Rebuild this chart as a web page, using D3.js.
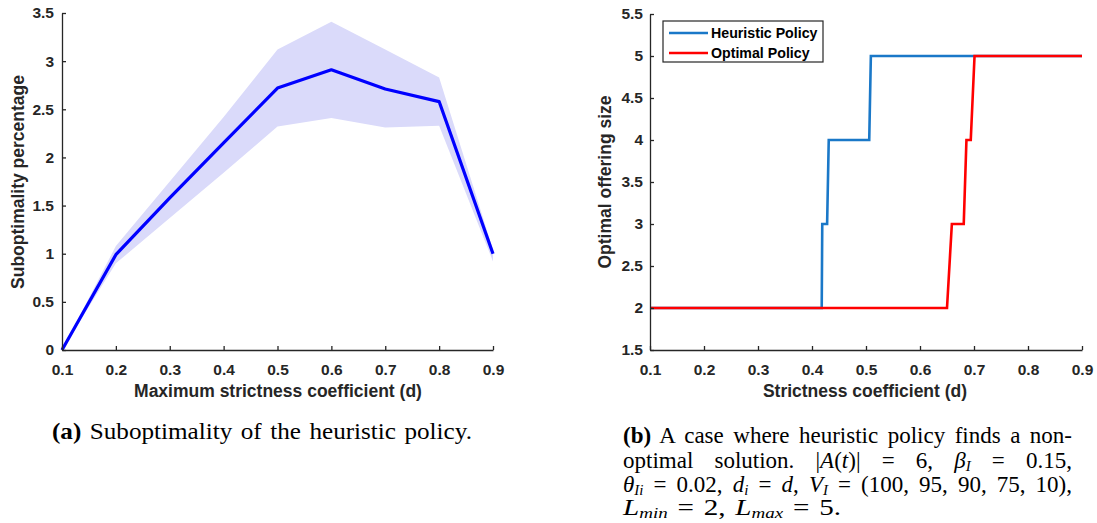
<!DOCTYPE html>
<html>
<head>
<meta charset="utf-8">
<script src="https://cdn.jsdelivr.net/npm/d3@7"></script>
<style>
  body { margin: 0; background: #fff; }
  .axis path, .axis line { stroke: #262626; stroke-width: 1.3px; }
  .axis text { fill: #262626; font-family: "Liberation Sans", Arial, sans-serif; font-weight: bold; font-size: 15.5px; }
  .lab { fill: #262626; font-family: "Liberation Sans", Arial, sans-serif; font-weight: bold; font-size: 17.5px; }
  .cap { fill: #000; font-family: "Liberation Serif", "DejaVu Serif", serif; font-size: 23px; }
</style>
</head>
<body>
<div id="chart"></div>
<script>
// left panel data
var strictX = [0.1, 0.2, 0.3, 0.4, 0.5, 0.6, 0.7, 0.8, 0.9];
var meanVals = [0, 0.99, 1.58, 2.15, 2.72, 2.91, 2.71, 2.58, 1.0];
var upperVals = [0, 1.08, 1.75, 2.42, 3.12, 3.41, 3.12, 2.83, 1.04];
var lowerVals = [0, 0.90, 1.37, 1.84, 2.32, 2.41, 2.31, 2.33, 0.92];

// right panel data (step curves)
var heurX = [0.1, 0.418, 0.419, 0.428, 0.431, 0.506, 0.509, 0.9];
var heurY = [2, 2, 3, 3, 4, 4, 5, 5];
var optX = [0.1, 0.65, 0.659, 0.681, 0.686, 0.694, 0.701, 0.9];
var optY = [2, 2, 3, 3, 4, 4, 5, 5];
var legendNames = ["Heuristic Policy", "Optimal Policy"];
var legendColors = ["#1a78c8", "#ff0000"];

// tick labels
var xTicks = [0.1, 0.2, 0.3, 0.4, 0.5, 0.6, 0.7, 0.8, 0.9];
var leftYTicks = [0, 0.5, 1, 1.5, 2, 2.5, 3, 3.5];
var rightYTicks = [1.5, 2, 2.5, 3, 3.5, 4, 4.5, 5, 5.5];

var svg = d3.select("#chart").append("svg")
    .attr("width", 1097)
    .attr("height", 523);

var fmt = function(d) { return String(d); };

// ---------- left chart ----------
var xL = d3.scaleLinear().domain([0.1, 0.9]).range([62, 493]);
var yL = d3.scaleLinear().domain([0, 3.5]).range([350, 13]);

var band = d3.area()
    .x(function(d, i) { return xL(strictX[i]); })
    .y0(function(d, i) { return yL(lowerVals[i]); })
    .y1(function(d, i) { return yL(upperVals[i]); });

svg.append("path")
    .attr("d", band(strictX))
    .attr("fill", "#dadafa");

var lineL = d3.line()
    .x(function(d, i) { return xL(strictX[i]); })
    .y(function(d) { return yL(d); });

svg.append("path")
    .attr("d", lineL(meanVals))
    .attr("fill", "none")
    .attr("stroke", "#0000ff")
    .attr("stroke-width", 3.2)
    .attr("stroke-linejoin", "round");

svg.append("g")
    .attr("class", "axis")
    .attr("transform", "translate(0,350)")
    .call(d3.axisBottom(xL).tickValues(xTicks).tickFormat(fmt).tickSizeInner(-4).tickSizeOuter(0).tickPadding(14));

svg.append("g")
    .attr("class", "axis")
    .attr("transform", "translate(62,0)")
    .call(d3.axisLeft(yL).tickValues(leftYTicks).tickFormat(fmt).tickSizeInner(-4).tickSizeOuter(0).tickPadding(8));

svg.append("text")
    .attr("class", "lab")
    .attr("x", 278)
    .attr("y", 397)
    .style("text-anchor", "middle")
    .text("Maximum strictness coefficient (d)");

svg.append("text")
    .attr("class", "lab")
    .attr("transform", "translate(24,182) rotate(-90)")
    .style("text-anchor", "middle")
    .text("Suboptimality percentage");

// ---------- right chart ----------
var xR = d3.scaleLinear().domain([0.1, 0.9]).range([650, 1082]);
var yR = d3.scaleLinear().domain([1.5, 5.5]).range([350, 14]);

var stepLine = function(xs) {
    return d3.line()
        .x(function(d, i) { return xR(xs[i]); })
        .y(function(d) { return yR(d); });
};

svg.append("path")
    .attr("d", stepLine(heurX)(heurY))
    .attr("fill", "none")
    .attr("stroke", legendColors[0])
    .attr("stroke-width", 2.6);

svg.append("path")
    .attr("d", stepLine(optX)(optY))
    .attr("fill", "none")
    .attr("stroke", legendColors[1])
    .attr("stroke-width", 2.6);

svg.append("g")
    .attr("class", "axis")
    .attr("transform", "translate(0,350)")
    .call(d3.axisBottom(xR).tickValues(xTicks).tickFormat(fmt).tickSizeInner(-4).tickSizeOuter(0).tickPadding(14));

svg.append("g")
    .attr("class", "axis")
    .attr("transform", "translate(650,0)")
    .call(d3.axisLeft(yR).tickValues(rightYTicks).tickFormat(fmt).tickSizeInner(-4).tickSizeOuter(0).tickPadding(7));

svg.append("text")
    .attr("class", "lab")
    .attr("x", 865)
    .attr("y", 397)
    .style("text-anchor", "middle")
    .text("Strictness coefficient (d)");

svg.append("text")
    .attr("class", "lab")
    .attr("transform", "translate(611,182) rotate(-90)")
    .style("text-anchor", "middle")
    .text("Optimal offering size");

// legend
svg.append("rect")
    .attr("x", 663)
    .attr("y", 21)
    .attr("width", 160)
    .attr("height", 41)
    .attr("fill", "white")
    .attr("stroke", "#262626")
    .attr("stroke-width", 1.2);

for (var i = 0; i < legendNames.length; i++) {
    svg.append("line")
        .attr("x1", 669).attr("x2", 708)
        .attr("y1", 33 + i * 20).attr("y2", 33 + i * 20)
        .attr("stroke", legendColors[i])
        .attr("stroke-width", 2.6);
    svg.append("text")
        .attr("x", 711)
        .attr("y", 33 + i * 20)
        .attr("dy", ".36em")
        .style("font-family", "'Liberation Sans', Arial, sans-serif")
        .style("font-weight", "bold")
        .style("font-size", "14.2px")
        .attr("fill", "#000")
        .text(legendNames[i]);
}

// ---------- captions ----------
// each part: [text, style] where style b = bold, r = roman, i = italic, s = italic subscript
var capA = [["(a)", "b"], [" Suboptimality of the heuristic policy.", "r"]];
var capB = [
    [["(b)", "b"], [" A case where heuristic policy finds a non-", "r"]],
    [["optimal solution. |", "r"], ["A", "i"], ["(", "r"], ["t", "i"], [")| = 6, ", "r"], ["\u03b2", "i"], ["I", "s"], [" = 0.15,", "r"]],
    [["\u03b8", "i"], ["Ii", "s"], [" = 0.02, ", "r"], ["d", "i"], ["i", "s"], [" = ", "r"], ["d", "i"], [", ", "r"], ["V", "i"], ["I", "s"], [" = (100, 95, 90, 75, 10),", "r"]],
    [["L", "i"], ["min", "s"], [" = 2, ", "r"], ["L", "i"], ["max", "s"], [" = 5.", "r"]]
];

var writeLine = function(parts, x, y, width, justify) {
    var t = svg.append("text")
        .attr("class", "cap")
        .attr("x", x)
        .attr("y", y)
        .style("white-space", "pre");
    parts.forEach(function(p, k) {
        var ts = t.append("tspan").text(p[0]);
        if (p[1] == "b") ts.style("font-weight", "bold");
        if (p[1] == "i" || p[1] == "s") ts.style("font-style", "italic");
        if (p[1] == "s") ts.style("font-size", "15px").attr("dy", 3);
        if (k > 0 && parts[k - 1][1] == "s" && p[1] != "s") ts.attr("dy", -3);
    });
    if (!justify) {
        // loose lines: a bit more room per space, then stretch to the TeX width
        t.style("word-spacing", "2px")
            .attr("textLength", width)
            .attr("lengthAdjust", "spacingAndGlyphs");
        return t;
    }
    // spread the leftover room over the spaces, like a justified TeX line
    var spaces = parts.map(function(p) { return p[0]; }).join("").split(" ").length - 1;
    var natural = t.node().getComputedTextLength();
    var gap = (width - natural) / spaces;
    if (gap < 0) {
        t.attr("textLength", width).attr("lengthAdjust", "spacingAndGlyphs");
    } else {
        t.style("word-spacing", gap + "px");
    }
    return t;
};

writeLine(capA, 52, 439, 420, false);
writeLine(capB[0], 623, 443, 449, true);
writeLine(capB[1], 623, 468, 449, true);
writeLine(capB[2], 623, 492, 449, true);
writeLine(capB[3], 623, 515, 218, false);
</script>
</body>
</html>
